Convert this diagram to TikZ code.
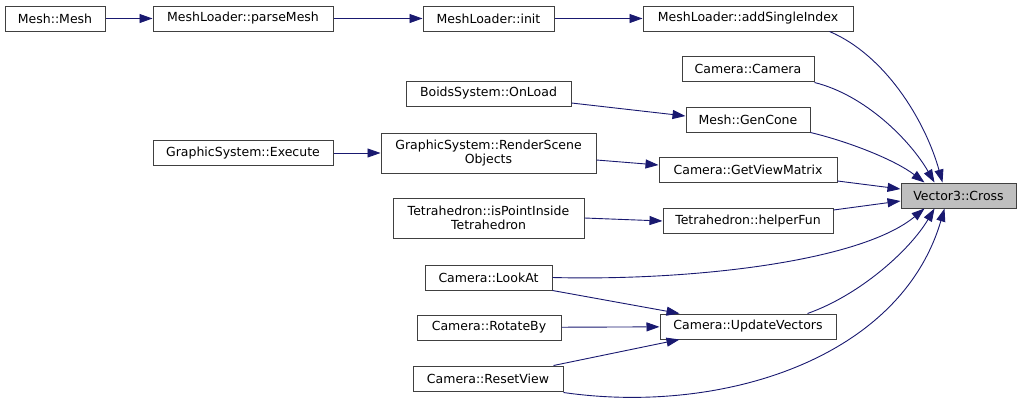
\documentclass[tikz,border=0pt]{standalone}
\usepackage{fontspec}
\setmainfont{DejaVu Sans}
\usepackage{tikz}
\usetikzlibrary{arrows.meta,positioning,calc}
\definecolor{EdgeBlue}{RGB}{25,25,112}
\definecolor{BoxGray}{RGB}{64,64,64}
\definecolor{CurGray}{RGB}{191,191,191}

\tikzset{
  fnbox/.style={draw=BoxGray, line width=1pt, fill=white, inner sep=0pt, minimum height=25pt,
    align=center, font=\fontsize{12.5}{14.5}\selectfont},
  curbox/.style={fnbox, fill=CurGray},
  call/.style={EdgeBlue, line width=0.9pt, -{Triangle[length=13pt,width=9pt]}}
}

\begin{document}
\begin{tikzpicture}[x=1pt,y=-1pt]
  \useasboundingbox (0,0) rectangle (1021,402);
  % callers, left to right
  \node[fnbox, minimum width=100pt] (meshctor) at (55,18.5) {Mesh::Mesh};
  \node[fnbox, minimum width=180pt] (parse) at (243,18.5) {MeshLoader::parseMesh};
  \node[fnbox, minimum width=131pt] (init) at (488.5,18.5) {MeshLoader::init};
  \node[fnbox, minimum width=210pt] (addidx) at (748,18.5) {MeshLoader::addSingleIndex};
  \node[fnbox, minimum width=132pt] (camctor) at (748,68.5) {Camera::Camera};
  \node[fnbox, minimum width=165pt] (onload) at (488.5,93.5) {BoidsSystem::OnLoad};
  \node[fnbox, minimum width=124pt] (gencone) at (748,119.5) {Mesh::GenCone};
  \node[fnbox, minimum width=180pt] (execute) at (243,153) {GraphicSystem::Execute};
  \node[fnbox, minimum width=215pt, minimum height=40pt] (render) at (488.5,153) {GraphicSystem::RenderScene\\Objects};
  \node[fnbox, minimum width=178pt] (viewmat) at (748,170) {Camera::GetViewMatrix};
  \node[curbox, minimum width=115pt] (cross) at (958.5,195.5) {Vector3::Cross};
  \node[fnbox, minimum width=191pt, minimum height=40pt] (inside) at (488.5,218) {Tetrahedron::isPointInside\\Tetrahedron};
  \node[fnbox, minimum width=170pt] (helper) at (748,221) {Tetrahedron::helperFun};
  \node[fnbox, minimum width=127pt] (lookat) at (488.5,277.5) {Camera::LookAt};
  \node[fnbox, minimum width=144pt] (rotate) at (489,327.5) {Camera::RotateBy};
  \node[fnbox, minimum width=176pt] (update) at (748,326.5) {Camera::UpdateVectors};
  \node[fnbox, minimum width=150pt] (reset) at (488,378.5) {Camera::ResetView};

  % straight calls
  \draw[call] (meshctor) -- (parse);
  \draw[call] (parse) -- (init);
  \draw[call] (init) -- (addidx);
  \draw[call] (execute) -- (render);
  \draw[call] ([yshift=-9.5]onload.east) -- ([yshift=3.5]gencone.west);
  \draw[call] ([yshift=-7]render.east) -- ([yshift=5]viewmat.west);
  \draw[call] (inside.east) -- (helper.west);
  \draw[call] (rotate) -- (update);
  \draw[call] ([yshift=-11]viewmat.east) -- ([yshift=6.5]cross.west);
  \draw[call] ([yshift=11]helper.east) -- ([yshift=-5.5]cross.west);
  \draw[call] (lookat.south east) -- ([xshift=20]update.north west);
  \draw[call] ([xshift=-10]reset.north east) -- ([xshift=20]update.south west);

  % curved calls into Vector3::Cross
  \draw[call] ([xshift=187]addidx.south west) .. controls (885,55) and (925,120) .. ([xshift=42]cross.north west);
  \draw[call] ([yshift=-1]camctor.south east) .. controls (865,95) and (910,140) .. ([xshift=34]cross.north west);
  \draw[call] (gencone.south east) .. controls (850,142) and (895,160) .. ([xshift=24]cross.north west);
  \draw[call] (lookat.east) .. controls (690,281) and (860,262) .. ([xshift=24]cross.south west);
  \draw[call] ([xshift=148]update.north west) .. controls (860,295) and (910,250) .. ([xshift=34]cross.south west);
  \draw[call] ([yshift=-1]reset.south east) .. controls (720,415) and (900,360) .. ([xshift=44]cross.south west);
\end{tikzpicture}
\end{document}
